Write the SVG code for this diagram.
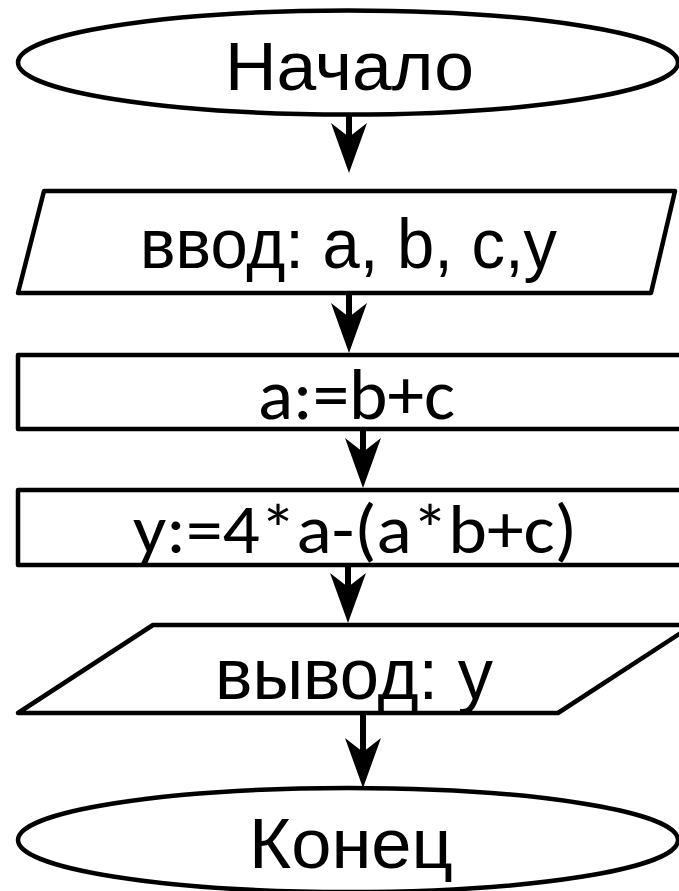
<svg xmlns="http://www.w3.org/2000/svg" width="679" height="891" viewBox="0 0 679 891">
<style>
.shape{fill:#fff;stroke:#000;stroke-width:4.5;stroke-linejoin:round}
.ar{font-family:"Liberation Sans",Arial,sans-serif;fill:#000}
.ca{font-family:Carlito,Lato,"Open Sans",sans-serif;fill:#000}
.conn line{stroke:#000;stroke-width:6}
.conn path{fill:#000;stroke:none}
</style>
<defs>
<path id="head" d="M0,0 L-18,-50 L0,-36 L18,-50 Z"/>
</defs>
<rect width="679" height="891" fill="#fff"/>
<g id="start">
<ellipse class="shape" cx="348" cy="62.5" rx="330" ry="52"/>
<text class="ar" x="225" y="90" font-size="68" textLength="249" lengthAdjust="spacingAndGlyphs">Начало</text>
</g>
<g id="input">
<polygon class="shape" points="44,191 675,191 651,293 18,293"/>
<text class="ar" x="140" y="268" font-size="71" textLength="417" lengthAdjust="spacingAndGlyphs">ввод: a, b, c,y</text>
</g>
<g id="assign1">
<rect class="shape" x="18" y="355" width="680" height="74"/>
<text class="ca" x="258" y="419" font-size="72" textLength="197" lengthAdjust="spacingAndGlyphs">a:=b+c</text>
</g>
<g id="assign2">
<rect class="shape" x="18" y="490" width="680" height="75"/>
<text class="ca" x="133" y="553" font-size="70" textLength="444" lengthAdjust="spacingAndGlyphs">y:=4*a-(a*b+c)</text>
</g>
<g id="output">
<polygon class="shape" points="153,625 693,625 558,713 18,713"/>
<text class="ar" x="215" y="699" font-size="73" textLength="278" lengthAdjust="spacingAndGlyphs">вывод: y</text>
</g>
<g id="end">
<ellipse class="shape" cx="348" cy="840" rx="330" ry="52"/>
<text class="ar" x="249" y="868" font-size="70" textLength="204" lengthAdjust="spacingAndGlyphs">Конец</text>
</g>
<g id="connectors" class="conn">
<line x1="349" y1="115" x2="349" y2="150"/>
<use href="#head" x="349" y="173"/>
<line x1="349" y1="295" x2="349" y2="330"/>
<use href="#head" x="349" y="353"/>
<line x1="363" y1="431" x2="363" y2="465"/>
<use href="#head" x="363" y="488"/>
<line x1="348" y1="567" x2="348" y2="600"/>
<use href="#head" x="348" y="623"/>
<line x1="363" y1="715" x2="363" y2="765"/>
<use href="#head" x="363" y="788"/>
</g>
</svg>
